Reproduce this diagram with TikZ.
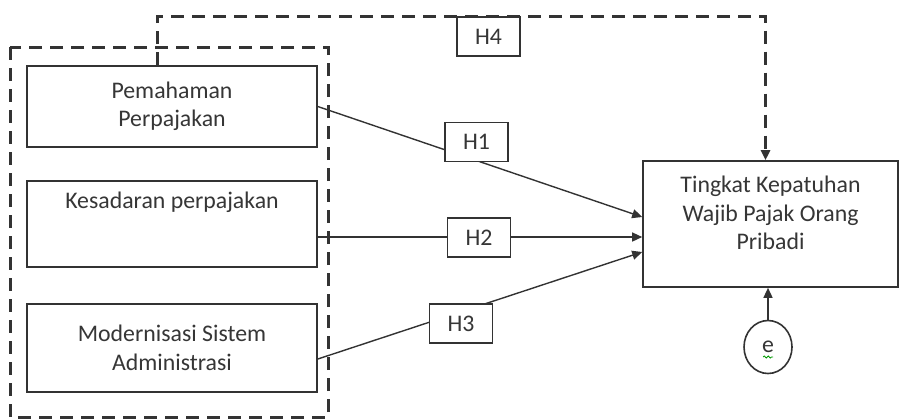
\documentclass[tikz,border=0pt]{standalone}
\usepackage{fontspec}
\setmainfont{Carlito}
\usepackage{xcolor}
\usepackage{tikz}
\usetikzlibrary{positioning, arrows.meta, shapes.geometric, decorations.pathmorphing}
\definecolor{ink}{HTML}{333333}
\definecolor{txt}{HTML}{363636}

\begin{document}
\begin{tikzpicture}[x=0.5pt, y=-0.5pt, >={Triangle[length=5pt,width=4.5pt]},
    every node/.style={align=center, text=txt, font=\fontsize{11.9}{14.2}\selectfont},
    varbox/.style={rectangle, draw=ink, line width=0.8pt, fill=white, minimum width=145pt},
    hbox/.style={rectangle, draw=ink, line width=0.8pt, fill=white, minimum width=31.5pt, minimum height=19.5pt},
    dashline/.style={draw=ink, line width=1.5pt, dash pattern=on 6.5pt off 4pt}]
    \useasboundingbox (0,0) rectangle (908,419);
    % independent variables
    \node[varbox, minimum height=40.5pt] (pem) at (172,106.5) {Pemahaman\\Perpajakan};
    \node[varbox, minimum height=43pt] (kes) at (172,224) {Kesadaran perpajakan\\[10pt]\mbox{}};
    \node[varbox, minimum height=44pt] (mod) at (172,348) {Modernisasi Sistem\\Administrasi};
    \draw[dashline] (10,47) rectangle (328,417);
    % dependent variable
    \node[varbox, minimum width=127.5pt, minimum height=63pt] (tkp) at (770.5,224) {Tingkat Kepatuhan\\Wajib Pajak Orang\\Pribadi\\[-3.2pt]\mbox{}};
    \node[ellipse, draw=ink, line width=0.8pt, minimum width=24pt, minimum height=26.5pt, inner sep=0pt] (e) at (768,347) {e};
    \draw[green!60!black, line width=0.4pt, decorate, decoration={snake, amplitude=0.5pt, segment length=2pt}]
      ([xshift=-2.5pt, yshift=-5pt]e.center) -- ([xshift=2.5pt, yshift=-5pt]e.center);
    % paths
    \draw[->, ink, line width=0.7pt] (pem.east) -- ([yshift=3.5pt]tkp.west);
    \draw[->, ink, line width=0.7pt] ([yshift=-6.5pt]kes.east) -- ([yshift=-6.5pt]tkp.west);
    \draw[->, ink, line width=0.7pt] ([yshift=-5.5pt]mod.east) -- ([yshift=-14pt]tkp.west);
    \draw[->, ink, line width=0.7pt] (e.north) -- (e |- tkp.south);
    \node[hbox] (h1) at (476.5,142) {H1};
    \node[hbox] (h2) at (479,237.5) {H2};
    \node[hbox] (h3) at (461,323.5) {H3};
    \node[hbox] (h4) at (488.5,36.5) {H4};
    \draw[dashline, ->] ([xshift=-7.5pt]pem.north) -- ++(0,24.5pt) -| ([xshift=-2.5pt]tkp.north);
  \end{tikzpicture}
\end{document}
